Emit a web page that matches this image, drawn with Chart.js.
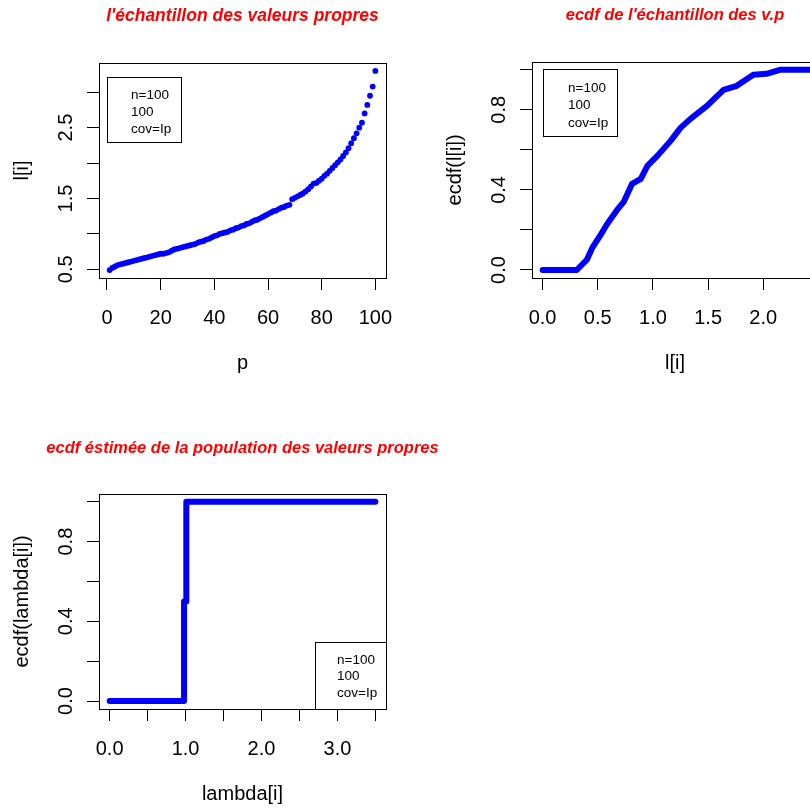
<!DOCTYPE html>
<html>
<head>
<meta charset="utf-8">
<script src="https://cdn.jsdelivr.net/npm/chart.js@4.4.0/dist/chart.umd.min.js"></script>
<style>
html,body{margin:0;padding:0;background:#fff;overflow:hidden;width:810px;height:812px;}
#wrap{position:relative;width:810px;height:812px;overflow:hidden;background:#fff;}
canvas{position:absolute;}
#c3wrap{position:absolute;left:0;top:405px;width:438px;height:407px;overflow:hidden;}
</style>
</head>
<body>
<div id="wrap">
<canvas id="c1" width="485" height="405" style="left:0;top:0"></canvas>
<canvas id="c2" width="540" height="405" style="left:405px;top:0"></canvas>
<div id="c3wrap"><canvas id="c3" width="485" height="407" style="left:0;top:0"></canvas></div>
</div>
<script>
// ---------- data ----------
const titles = [
  "l'échantillon des valeurs propres",
  "ecdf de l'échantillon des v.p",
  "ecdf éstimée de la population des valeurs propres"
];
const legendLines = ['n=100', '100', 'cov=Ip'];

// panel 1 : sorted sample eigenvalues l[i], p = 1..100
const sampleEigen = [
  0.49, 0.52, 0.54, 0.56, 0.57, 0.58, 0.59, 0.60, 0.61, 0.62,
  0.63, 0.64, 0.65, 0.66, 0.67, 0.68, 0.69, 0.70, 0.71, 0.72,
  0.72, 0.73, 0.74, 0.76, 0.78, 0.79, 0.80, 0.81, 0.82, 0.83,
  0.84, 0.85, 0.86, 0.88, 0.89, 0.90, 0.92, 0.93, 0.95, 0.97,
  0.98, 1.00, 1.01, 1.02, 1.03, 1.05, 1.06, 1.08, 1.09, 1.11,
  1.12, 1.14, 1.15, 1.17, 1.19, 1.20, 1.22, 1.24, 1.26, 1.28,
  1.30, 1.32, 1.33, 1.35, 1.37, 1.38, 1.40, 1.41, 1.49, 1.51,
  1.53, 1.55, 1.57, 1.60, 1.63, 1.67, 1.71, 1.72, 1.75, 1.78,
  1.82, 1.85, 1.89, 1.93, 1.97, 2.01, 2.05, 2.10, 2.15, 2.21,
  2.28, 2.35, 2.42, 2.50, 2.57, 2.70, 2.82, 2.95, 3.08, 3.30
];
const p1XTicks = [0, 20, 40, 60, 80, 100];
const p1XLabels = ['0', '20', '40', '60', '80', '100'];
const p1YTicks = [0.5, 1.0, 1.5, 2.0, 2.5, 3.0];
const p1YLabels = ['0.5', '', '1.5', '', '2.5', ''];

// panel 2 : ecdf of the sample
const ecdfX = [0.00, 0.31, 0.40, 0.45, 0.52, 0.585, 0.675, 0.735, 0.81, 0.89, 0.95, 1.04, 1.16, 1.25, 1.34, 1.49, 1.64, 1.76, 1.91, 2.03, 2.15, 2.50];
const ecdfY = [0.00, 0.00, 0.05, 0.11, 0.17, 0.23, 0.30, 0.34, 0.43, 0.455, 0.52, 0.57, 0.645, 0.71, 0.755, 0.82, 0.90, 0.92, 0.975, 0.98, 1.00, 1.00];
const p2XTicks = [0, 0.5, 1.0, 1.5, 2.0];
const p2XLabels = ['0.0', '0.5', '1.0', '1.5', '2.0'];
const p2YTicks = [0, 0.2, 0.4, 0.6, 0.8, 1.0];
const p2YLabels = ['0.0', '', '0.4', '', '0.8', ''];

// panel 3 : estimated population ecdf (step function)
const lambdaX = [0.00, 0.98, 1.01, 3.50];
const lambdaY = [0.00, 0.50, 1.00, 1.00];
const p3XTicks = [0, 0.5, 1.0, 1.5, 2.0, 2.5, 3.0, 3.5];
const p3XLabels = ['0.0', '', '1.0', '', '2.0', '', '3.0', ''];
const p3YTicks = [0, 0.2, 0.4, 0.6, 0.8, 1.0];
const p3YLabels = ['0.0', '', '0.4', '', '0.8', ''];

// ---------- helpers ----------
const FONT = "'Liberation Sans', Arial, Helvetica, sans-serif";
const BLUE = '#0000ff';

function padRange(arr) {
  const lo = Math.min(...arr), hi = Math.max(...arr), d = (hi - lo) * 0.04;
  return [lo - d, hi + d];
}

const rPlot = {
  id: 'rPlot',
  afterDraw(chart, args, o) {
    const {ctx, chartArea: a} = chart;
    ctx.save();
    ctx.strokeStyle = '#000';
    ctx.lineWidth = 1;
    const L = Math.round(a.left), T = Math.round(a.top), R = Math.round(a.right), B = Math.round(a.bottom);
    ctx.strokeRect(L + 0.5, T + 0.5, R - L, B - T);
    // rotated y tick labels (R style, las=0)
    const ys = chart.scales.y;
    ctx.fillStyle = '#000';
    ctx.font = '20px ' + FONT;
    ctx.textAlign = 'center';
    ctx.textBaseline = 'middle';
    ys.ticks.forEach(t => {
      if (!t.label) return;
      const py = ys.getPixelForValue(t.value);
      ctx.save();
      ctx.translate(a.left - o.yLabelOffset, py);
      ctx.rotate(-Math.PI / 2);
      ctx.fillText(t.label, 0, 0);
      ctx.restore();
    });
    // legend box
    const g = o.legend;
    const bx = g.anchor === 'br' ? R - g.w : L + g.dx;
    const by = g.anchor === 'br' ? B - g.h : T + g.dy;
    ctx.fillStyle = '#fff';
    ctx.fillRect(bx, by, g.w, g.h);
    ctx.strokeRect(bx + 0.5, by + 0.5, g.w, g.h);
    ctx.fillStyle = '#000';
    ctx.font = '13.5px ' + FONT;
    ctx.textAlign = 'left';
    ctx.textBaseline = 'middle';
    legendLines.forEach((s, i) => ctx.fillText(s, bx + g.tx, by + g.ty + i * g.lh));
    ctx.restore();
  }
};

function xAxis(min, max, ticks, labels, title, h, titlePadBottom) {
  return {
    type: 'linear', position: 'bottom', min, max,
    afterBuildTicks: s => { s.ticks = ticks.map(v => ({value: v})); },
    afterFit: s => { s.height = h; },
    grid: {drawOnChartArea: false, drawTicks: true, tickLength: 12, color: '#000', lineWidth: 1},
    border: {display: false},
    ticks: {autoSkip: false, maxRotation: 0, minRotation: 0, padding: 16, color: '#000',
            font: {family: FONT, size: 20, lineHeight: 1.2},
            callback: (v, i) => labels[i]},
    title: {display: true, text: title, color: '#000', font: {family: FONT, size: 20, lineHeight: 1.2},
            padding: {top: 0, bottom: titlePadBottom}}
  };
}
function yAxis(min, max, ticks, labels, title, w, titlePadTop) {
  return {
    type: 'linear', position: 'left', min, max,
    afterBuildTicks: s => { s.ticks = ticks.map(v => ({value: v})); },
    afterFit: s => { s.width = w; },
    grid: {drawOnChartArea: false, drawTicks: true, tickLength: 12, color: '#000', lineWidth: 1},
    border: {display: false},
    ticks: {display: false, callback: (v, i) => labels[i]},
    title: {display: true, text: title, color: '#000', font: {family: FONT, size: 20, lineHeight: 1.2},
            padding: {top: titlePadTop, bottom: 0}}
  };
}
function dummyRight(w) {
  return {type: 'linear', position: 'right', display: true,
          grid: {display: false}, border: {display: false}, ticks: {display: false},
          afterFit: s => { s.width = w; }};
}
function titleOpts(text, size, pt, pb) {
  return {display: true, text, color: '#ff0000', fullSize: true,
          font: {family: FONT, size, weight: 'bold', style: 'italic', lineHeight: 1.2},
          padding: {top: pt, bottom: pb}};
}
const common = {responsive: false, animation: false, events: [],
                layout: {padding: 0}};

// ---------- panel 1 ----------
const pIdx = sampleEigen.map((_, i) => i + 1);
const [x1min, x1max] = padRange(pIdx);
const [y1min, y1max] = padRange(sampleEigen);
new Chart(document.getElementById('c1'), {
  type: 'scatter',
  data: {datasets: [{
    data: sampleEigen.map((v, i) => ({x: pIdx[i], y: v})),
    xAxisID: 'x', yAxisID: 'y',
    pointRadius: 2.9, pointBackgroundColor: BLUE, pointBorderWidth: 0, pointStyle: 'circle'
  }]},
  options: Object.assign({}, common, {
    scales: {
      x: xAxis(x1min, x1max, p1XTicks, p1XLabels, 'p', 127, 29.5),
      y: yAxis(y1min, y1max, p1YTicks, p1YLabels, 'l[i]', 99, 10.5),
      yR: dummyRight(99)
    },
    plugins: {legend: {display: false}, tooltip: {enabled: false},
      title: titleOpts(titles[0], 17.5, 5.5, 36.5),
      rPlot: {yLabelOffset: 33, legend: {anchor: 'tl', dx: 8, dy: 14, w: 74, h: 65, tx: 24, ty: 18, lh: 17}}}
  }),
  plugins: [rPlot]
});

// ---------- panel 2 ----------
new Chart(document.getElementById('c2'), {
  type: 'line',
  data: {datasets: [{
    data: ecdfX.map((v, i) => ({x: v, y: ecdfY[i]})),
    xAxisID: 'x', yAxisID: 'y',
    borderColor: BLUE, borderWidth: 6, pointRadius: 0, tension: 0,
    borderJoinStyle: 'round', borderCapStyle: 'round', fill: false
  }]},
  options: Object.assign({}, common, {
    scales: {
      x: xAxis(-0.096, 2.496, p2XTicks, p2XLabels, 'l[i]', 127, 29.5),
      y: yAxis(-0.04, 1.04, p2YTicks, p2YLabels, 'ecdf(l[i])', 127, 38.5),
      yR: dummyRight(127)
    },
    plugins: {legend: {display: false}, tooltip: {enabled: false},
      title: titleOpts(titles[1], 16.5, 6, 36),
      rPlot: {yLabelOffset: 33, legend: {anchor: 'tl', dx: 11, dy: 7, w: 74, h: 67, tx: 25, ty: 19, lh: 17.5}}}
  }),
  plugins: [rPlot]
});

// ---------- panel 3 ----------
new Chart(document.getElementById('c3'), {
  type: 'line',
  data: {datasets: [{
    data: lambdaX.map((v, i) => ({x: v, y: lambdaY[i]})),
    xAxisID: 'x', yAxisID: 'y',
    borderColor: BLUE, borderWidth: 6, pointRadius: 0, stepped: 'before',
    borderJoinStyle: 'round', borderCapStyle: 'round', fill: false
  }]},
  options: Object.assign({}, common, {
    scales: {
      x: xAxis(-0.14, 3.64, p3XTicks, p3XLabels, 'lambda[i]', 103, 5.5),
      y: yAxis(-0.04, 1.04, p3YTicks, p3YLabels, 'ecdf(lambda[i])', 99, 10.5),
      yR: dummyRight(99)
    },
    plugins: {legend: {display: false}, tooltip: {enabled: false},
      title: titleOpts(titles[2], 16.5, 34, 35),
      rPlot: {yLabelOffset: 33, legend: {anchor: 'br', w: 71, h: 67, tx: 22, ty: 18, lh: 16.5}}}
  }),
  plugins: [rPlot]
});
</script>
</body>
</html>
